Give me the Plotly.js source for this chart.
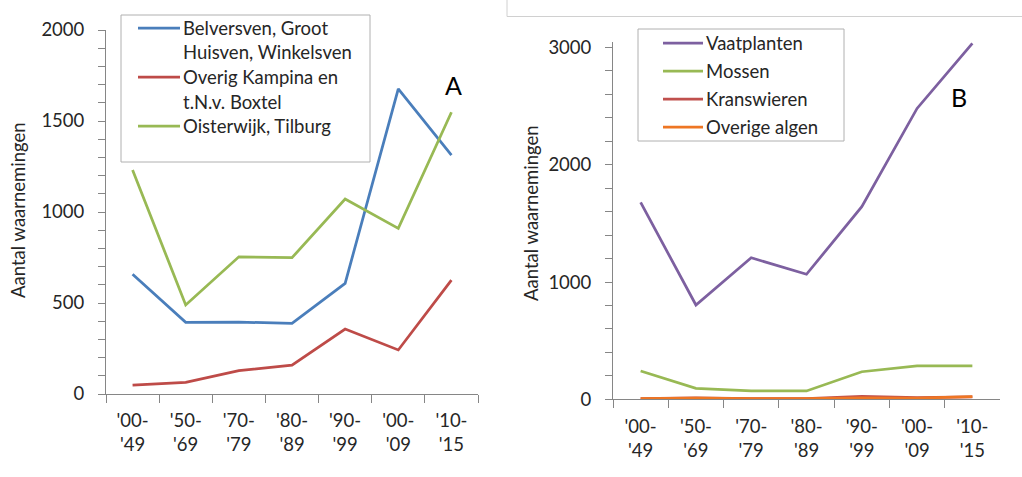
<!DOCTYPE html>
<html>
<head>
<meta charset="utf-8">
<script src="https://cdn.plot.ly/plotly-3.0.1.min.js"></script>
<style>
  html, body { margin: 0; padding: 0; background: #ffffff; }
  #chart { width: 1022px; height: 477px; }
</style>
</head>
<body>
<div id="chart"></div>
<script>
// Periods on the category axis (two-line labels)
var periods = ["'00-<br>'49", "'50-<br>'69", "'70-<br>'79", "'80-<br>'89", "'90-<br>'99", "'00-<br>'09", "'10-<br>'15"];

// Panel A: observations per area
var namesA = ["Belversven, Groot<br>Huisven, Winkelsven", "Overig Kampina en<br>t.N.v. Boxtel", "Oisterwijk, Tilburg"];
var belversven = [658, 394, 395, 388, 608, 1677, 1313];
var overigKampina = [49, 64, 128, 159, 357, 242, 626];
var oisterwijk = [1231, 489, 754, 749, 1071, 910, 1548];

// Panel B: observations per species group
var namesB = ["Vaatplanten", "Mossen", "Kranswieren", "Overige algen"];
var vaatplanten = [1679, 804, 1207, 1066, 1642, 2480, 3034];
var mossen = [241, 94, 71, 71, 235, 284, 284];
var kranswieren = [5, 12, 5, 5, 25, 15, 20];
var overigeAlgen = [5, 10, 5, 5, 12, 10, 22];

var colorsA = ['#4A7EBB', '#BE4B48', '#98B954'];
var colorsB = ['#7D60A0', '#98B954', '#C0504D', '#EE7623'];

var W = 1022, H = 477;
var FONT = 'Lato, "DejaVu Sans", sans-serif';
var TXT = '#262626';
var AX = '#868686';
var FS = 18.5;

function px(x) { return x / W; }
function py(y) { return (H - y) / H; }

var seriesA = [belversven, overigKampina, oisterwijk];
var seriesB = [vaatplanten, mossen, kranswieren, overigeAlgen];

var traces = [];
seriesA.forEach(function (vals, i) {
  traces.push({
    x: periods, y: vals, type: 'scatter', mode: 'lines',
    name: namesA[i], xaxis: 'x', yaxis: 'y',
    line: { color: colorsA[i], width: 2.75 }, hoverinfo: 'y'
  });
});
seriesB.forEach(function (vals, i) {
  traces.push({
    x: periods, y: vals, type: 'scatter', mode: 'lines',
    name: namesB[i], xaxis: 'x2', yaxis: 'y2',
    line: { color: colorsB[i], width: 2.75 }, hoverinfo: 'y'
  });
});

function xAxis(domain, anchor) {
  return {
    domain: domain, anchor: anchor, type: 'category',
    range: [-0.5, 6.5], tickson: 'boundaries',
    showline: true, linecolor: AX, linewidth: 1,
    ticks: 'outside', ticklen: 8, tickcolor: AX, tickwidth: 1,
    showgrid: false, zeroline: false, fixedrange: true,
    tickfont: { family: FONT, size: FS, color: TXT },
    ticklabelstandoff: 10
  };
}
function yAxis(domain, anchor, range, dtick, minor) {
  return {
    domain: domain, anchor: anchor, range: range,
    dtick: dtick, tick0: 0,
    showline: true, linecolor: AX, linewidth: 1,
    ticks: 'outside', ticklen: 7, tickcolor: AX, tickwidth: 1,
    minor: { dtick: minor, tick0: 0, ticks: 'outside', ticklen: 7, tickcolor: AX, tickwidth: 1, showgrid: false },
    showgrid: false, zeroline: false, fixedrange: true,
    tickfont: { family: FONT, size: FS, color: TXT },
    ticklabelstandoff: 10
  };
}

var shapes = [];
var annotations = [];

// Frame edge above panel B
shapes.push({ type: 'line', xref: 'paper', yref: 'paper', x0: px(507), x1: px(1022), y0: py(16.5), y1: py(16.5), line: { color: '#d0d0d0', width: 1 } });
shapes.push({ type: 'line', xref: 'paper', yref: 'paper', x0: px(507), x1: px(507), y0: py(0), y1: py(16.5), line: { color: '#d0d0d0', width: 1 } });

// Boxed legend: one line sample per series, text to the right of it
function legend(box, names, colors, lineX0, lineX1, textX, rows, lineGap) {
  shapes.push({ type: 'rect', xref: 'paper', yref: 'paper',
    x0: px(box[0]), x1: px(box[2]), y0: py(box[3]), y1: py(box[1]),
    line: { color: '#b0b0b0', width: 1 }, fillcolor: 'rgba(255,255,255,0)' });
  names.forEach(function (nm, i) {
    var yc = rows[i];
    shapes.push({ type: 'line', xref: 'paper', yref: 'paper',
      x0: px(lineX0), x1: px(lineX1), y0: py(yc), y1: py(yc),
      line: { color: colors[i], width: 2.75 } });
    nm.split('<br>').forEach(function (part, k) {
      annotations.push({ xref: 'paper', yref: 'paper', x: px(textX), y: py(yc + k * lineGap),
        xanchor: 'left', yanchor: 'middle', showarrow: false, text: part,
        font: { family: FONT, size: FS, color: TXT } });
    });
  });
}
legend([121, 15, 370, 162], namesA, colorsA, 138, 180, 181, [28, 77, 126], 24.5);
legend([638, 29, 844, 141], namesB, colorsB, 663, 703, 704, [43, 71, 99, 127], 0);

// Panel letters
annotations.push({ xref: 'paper', yref: 'paper', x: px(453), y: py(85), xanchor: 'center', yanchor: 'middle', showarrow: false, text: 'A', font: { family: FONT, size: 25, color: '#000' } });
annotations.push({ xref: 'paper', yref: 'paper', x: px(959), y: py(97), xanchor: 'center', yanchor: 'middle', showarrow: false, text: 'B', font: { family: FONT, size: 25, color: '#000' } });

// Y axis titles
annotations.push({ xref: 'paper', yref: 'paper', x: px(18), y: py(210), xanchor: 'center', yanchor: 'middle', textangle: -90, showarrow: false, text: 'Aantal waarnemingen', font: { family: FONT, size: FS, color: TXT } });
annotations.push({ xref: 'paper', yref: 'paper', x: px(531), y: py(213), xanchor: 'center', yanchor: 'middle', textangle: -90, showarrow: false, text: 'Aantal waarnemingen', font: { family: FONT, size: FS, color: TXT } });

var layout = {
  width: W, height: H,
  margin: { l: 0, r: 0, t: 0, b: 0 },
  paper_bgcolor: '#ffffff', plot_bgcolor: '#ffffff',
  showlegend: false,
  xaxis: xAxis([px(106), px(478)], 'y'),
  yaxis: yAxis([py(394), py(30)], 'x', [0, 2000], 500, 100),
  xaxis2: xAxis([px(613), px(1000)], 'y2'),
  yaxis2: yAxis([py(399.3), py(41.6)], 'x2', [0, 3050], 1000, 200),
  shapes: shapes,
  annotations: annotations
};

Plotly.newPlot('chart', traces, layout, { displayModeBar: false, staticPlot: true });
</script>
</body>
</html>
